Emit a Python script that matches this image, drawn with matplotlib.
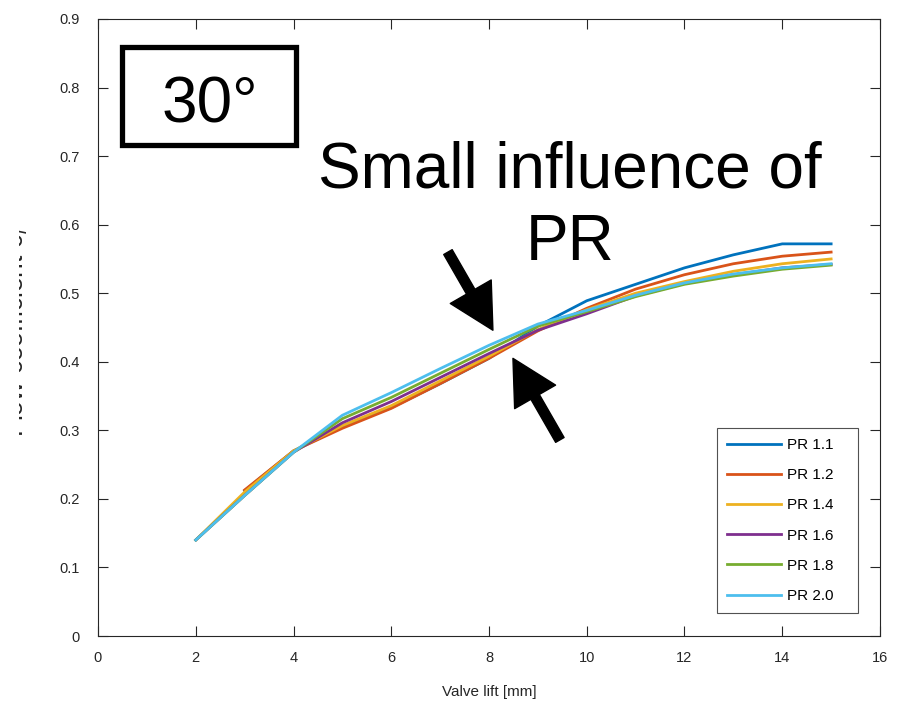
import numpy as np
import matplotlib.pyplot as plt
from matplotlib.patches import Rectangle

plt.rcParams['font.family'] = ['Liberation Sans', 'DejaVu Sans']

# Valores
lift = [2, 3, 4, 5, 6, 7, 8, 9, 10, 11, 12, 13, 14, 15]
labels = ['PR 1.1', 'PR 1.2', 'PR 1.4', 'PR 1.6', 'PR 1.8', 'PR 2.0']
colores = ['#0072BD', '#D95319', '#EDB120', '#7E2F8E', '#77AC30', '#4DBEEE']

pr11 = [np.nan, 0.212, 0.270, 0.305, 0.333, 0.368, 0.405, 0.452, 0.489, 0.513, 0.537, 0.556, 0.572, 0.572]
pr12 = [np.nan, 0.213, 0.270, 0.303, 0.332, 0.368, 0.405, 0.445, 0.478, 0.506, 0.527, 0.543, 0.554, 0.560]
pr14 = [0.140, 0.210, 0.270, 0.307, 0.336, 0.372, 0.408, 0.447, 0.476, 0.500, 0.517, 0.532, 0.543, 0.550]
pr16 = [0.140, 0.205, 0.268, 0.311, 0.342, 0.377, 0.412, 0.446, 0.470, 0.496, 0.514, 0.527, 0.537, 0.542]
pr18 = [0.140, 0.205, 0.268, 0.317, 0.348, 0.383, 0.418, 0.452, 0.473, 0.495, 0.513, 0.525, 0.535, 0.541]
pr20 = [0.140, 0.205, 0.268, 0.322, 0.355, 0.390, 0.424, 0.455, 0.475, 0.497, 0.515, 0.528, 0.537, 0.543]
series = [pr11, pr12, pr14, pr16, pr18, pr20]

fig = plt.figure(figsize=(8.98, 7.05), dpi=100)
ax = fig.add_axes([98/898, 69/705, 782/898, 617/705])

for s, c, l in zip(series, colores, labels):
    ax.plot(lift, s, color=c, lw=2, label=l)

ax.set_xlim(0, 16)
ax.set_ylim(0, 0.9)
ax.set_xticks(np.arange(0, 17, 2))
ax.set_yticks(np.arange(0, 0.91, 0.1))
ax.set_yticklabels(['0'] + ['%.1f' % v for v in np.arange(0.1, 0.91, 0.1)])
ax.tick_params(direction='in', top=True, right=True, length=7, width=0.8,
               labelsize=10.5, colors='#262626')
ax.tick_params(axis='x', pad=11)
ax.tick_params(axis='y', pad=13)
for sp in ax.spines.values():
    sp.set_color('#262626')
    sp.set_linewidth(0.8)

ax.set_xlabel('Valve lift [mm]', fontsize=11, color='#262626', labelpad=14)
ax.set_ylabel('Flow coefficient c$_f$', fontsize=19, color='#262626')
ax.yaxis.set_label_coords((30 - 98) / 782, 0.496)

ley = ax.legend(loc='lower left', bbox_to_anchor=(0.7916, 0.0373, 0.1803, 0.3),
                mode='expand', fontsize=11,
                frameon=True, fancybox=False, edgecolor='#262626',
                handlelength=3.5, handletextpad=0.45, labelspacing=1.06,
                borderpad=0.66, borderaxespad=0)
ley.get_frame().set_linewidth(0.8)

# Caja "30°"
ax.add_patch(Rectangle((0.49, 0.716), 3.56, 0.143, fill=False, lw=3.8,
                       ec='black', zorder=5))
ax.text(2.29, 0.774, '30°', fontsize=46, ha='center', va='center', zorder=6)

ax.text(9.66, 0.626, 'Small influence of\nPR', fontsize=46, ha='center', va='center',
        linespacing=1.28)

# Flechas
estilo = dict(arrowstyle='simple,head_length=32,head_width=34,tail_width=7',
              mutation_scale=1, color='black', shrinkA=0, shrinkB=0)
ax.annotate('', xy=(8.08, 0.446), xytext=(7.16, 0.560), arrowprops=estilo, zorder=6)
ax.annotate('', xy=(8.49, 0.405), xytext=(9.45, 0.286), arrowprops=estilo, zorder=6)

# La etiqueta del eje y está cortada en el original
fig.patches.append(Rectangle((0, 0), 19/898, 1, transform=fig.transFigure,
                             fc='white', ec='none', zorder=10))

fig.savefig('out.png', dpi=100)
